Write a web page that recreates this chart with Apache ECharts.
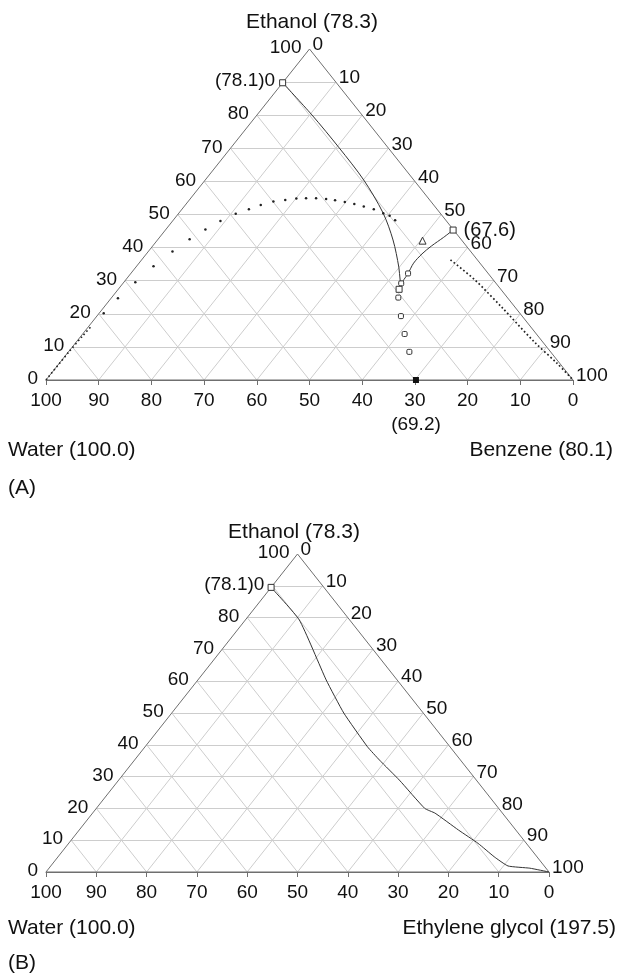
<!DOCTYPE html>
<html><head><meta charset="utf-8">
<script src="https://cdn.jsdelivr.net/npm/echarts@6/dist/echarts.min.js"></script>
<style>html,body{margin:0;padding:0;background:#fff}#c{width:617px;height:974px}</style>
</head><body><div id="c"></div>
<script>
// ---------- tick labels ----------
const gridLevels = [10, 20, 30, 40, 50, 60, 70, 80, 90];
const bottomTickLabels = ['100', '90', '80', '70', '60', '50', '40', '30', '20', '10', '0'];
const leftTickLabels = ['0', '10', '20', '30', '40', '50', '60', '70', '80', '(78.1)0', '100'];
const rightTickLabels = ['0', '10', '20', '30', '40', '50', '60', '70', '80', '90', '100'];

// ---------- chart A : points as [ethanol %, benzene %] (water = rest) ----------
const aBoundaryLeft = [[89.8, 0], [80.1, 10.4], [70.1, 20.6], [60.4, 30.1], [50.5, 38.7], [42.3, 44.7], [34.1, 49.9], [30.2, 52.1], [29.2, 52.8]];
const aBoundaryRight = [[29.2, 52.8], [32.2, 52.6], [35.3, 52.1], [38.1, 52.3], [40.5, 52.9], [43.1, 53.9], [45.3, 54.6]];
const aSquares = [[89.8, 0], [45.3, 54.6], [27.4, 53.3]];
const aTriangles = [[42.1, 50.4]];
const aCircles = [[32.2, 52.6], [29.2, 52.8], [24.9, 54.4], [19.3, 57.7], [13.9, 61.1], [8.5, 64.7]];
const aFilled = [[0, 70.2]];
const aBinodalDense = [[0, 0], [8.5, 0.1], [13.4, 0.3], [16.4, 0.5]];
const aBinodalDots = [[20.2, 0.85], [24.7, 1.3], [29.5, 2.2], [34.4, 3.2], [38.8, 4.6], [42.5, 6.0], [45.5, 7.5], [48.0, 9.1], [50.2, 10.9], [51.6, 12.7], [52.9, 14.3], [53.9, 16.2], [54.4, 18.2], [54.8, 20.1], [54.9, 21.9], [54.9, 23.8], [54.7, 25.8], [54.3, 27.7], [53.8, 29.8], [53.2, 31.9], [52.4, 34.1], [51.6, 36.4], [50.4, 38.8], [49.6, 40.4], [48.3, 42.1]];
const aBinodalRight = [[36.3, 58.6], [30.2, 66.3], [21.7, 75.8], [11.6, 86.8], [5.0, 94.5], [0, 100]];

// ---------- chart B : points as [ethanol %, ethylene glycol %] ----------
const bCurve = [[89.5, 0], [79.3, 10.7], [60.4, 25.5], [50.0, 34.2], [39.4, 44.2], [35.2, 48.7], [28.9, 55.8], [20.0, 65.3], [18.5, 68.1], [13.2, 75.4], [9.0, 81.4], [4.8, 86.7], [1.9, 90.9], [1.2, 95.6], [0, 100]];
const bSquares = [[89.5, 0]];

// ---------- helpers ----------
const FONT = 'Liberation Sans, Arial, Helvetica, sans-serif';
const TXT = '#111';
const LINE = '#333';
// ternary (top component %, right component %) -> cartesian value coords
function tern(top, right) { return [right + top / 2, top]; }
function conv(arr) { return arr.map(p => tern(p[0], p[1])); }

function gridLines() {
  const segs = [];
  gridLevels.forEach(L => {
    segs.push({ coords: [tern(L, 0), tern(L, 100 - L)] });          // constant top
    segs.push({ coords: [tern(0, L), tern(100 - L, L)] });          // constant right comp
    segs.push({ coords: [tern(0, 100 - L), tern(100 - L, 0)] });    // constant left comp
  });
  return segs;
}

function labelStyle(pos, dist, off) {
  return { show: true, position: pos, distance: dist, offset: off, formatter: p => p.data[2],
    fontSize: 19, color: TXT, opacity: 1, fontFamily: FONT };
}
function hollow() { return { color: '#fff', borderColor: '#333', borderWidth: 1, opacity: 1 }; }

function chartSeries(g) {
  const s = [];
  s.push({ type: 'lines', coordinateSystem: 'cartesian2d', xAxisIndex: g, yAxisIndex: g, silent: true, z: 1,
    data: gridLines(), lineStyle: { color: '#cdcdcd', width: 1, opacity: 1 } });
  s.push({ type: 'line', xAxisIndex: g, yAxisIndex: g, silent: true, z: 2, symbol: 'none',
    data: [tern(0, 0), tern(0, 100), tern(100, 0), tern(0, 0)], lineStyle: { color: '#6f6f6f', width: 1 } });
  // left edge labels
  s.push({ type: 'scatter', xAxisIndex: g, yAxisIndex: g, silent: true, z: 5, symbolSize: 0,
    itemStyle: { color: TXT, opacity: 1 },
    data: leftTickLabels.map((t, i) => tern(i * 10, 0).concat([t])),
    label: labelStyle('left', 8, [0, -1]) });
  // right edge labels
  s.push({ type: 'scatter', xAxisIndex: g, yAxisIndex: g, silent: true, z: 5, symbolSize: 0,
    itemStyle: { color: TXT, opacity: 1 },
    data: rightTickLabels.map((t, i) => tern(100 - i * 10, i * 10).concat([t])),
    label: labelStyle('right', 3, [0, -4]) });
  return s;
}

const series = [].concat(chartSeries(0), chartSeries(1));

// chart A data
series.push({ type: 'line', xAxisIndex: 0, yAxisIndex: 0, z: 3, symbol: 'none', smooth: 0.3,
  data: conv(aBoundaryLeft), lineStyle: { color: LINE, width: 1 } });
series.push({ type: 'line', xAxisIndex: 0, yAxisIndex: 0, z: 3, symbol: 'none', smooth: 0.3,
  data: conv(aBoundaryRight), lineStyle: { color: LINE, width: 1 } });
series.push({ type: 'line', xAxisIndex: 0, yAxisIndex: 0, z: 3, symbol: 'none', smooth: 0.3,
  data: conv(aBinodalDense), lineStyle: { color: '#222', width: 1.6, type: [1.6, 2.6] } });
series.push({ type: 'line', xAxisIndex: 0, yAxisIndex: 0, z: 3, symbol: 'none', smooth: 0.3,
  data: conv(aBinodalRight), lineStyle: { color: '#222', width: 1.7, type: [1.7, 2.4] } });
series.push({ type: 'scatter', xAxisIndex: 0, yAxisIndex: 0, z: 3, symbol: 'circle', symbolSize: 2.5,
  data: conv(aBinodalDots), itemStyle: { color: '#222', opacity: 1 } });
series.push({ type: 'scatter', xAxisIndex: 0, yAxisIndex: 0, z: 4, symbol: 'roundRect', symbolSize: 5,
  data: conv(aCircles), itemStyle: hollow() });
series.push({ type: 'scatter', xAxisIndex: 0, yAxisIndex: 0, z: 4, symbol: 'triangle', symbolSize: 7,
  data: conv(aTriangles), itemStyle: hollow() });
series.push({ type: 'scatter', xAxisIndex: 0, yAxisIndex: 0, z: 4, symbol: 'rect', symbolSize: 6,
  data: conv(aSquares).map((p, i) => ({ value: p, label: i === 1 ? { show: true, formatter: '(67.6)', position: 'right', distance: 7 } : { show: false } })),
  label: { fontSize: 20, color: TXT, opacity: 1, fontFamily: FONT },
  itemStyle: hollow() });
series.push({ type: 'scatter', xAxisIndex: 0, yAxisIndex: 0, z: 4, symbol: 'rect', symbolSize: 6,
  data: conv(aFilled),
  label: { show: true, formatter: '(69.2)', position: 'bottom', distance: 32, fontSize: 19, color: TXT, opacity: 1, fontFamily: FONT },
  itemStyle: { color: '#111', opacity: 1 } });

// chart B data
series.push({ type: 'line', xAxisIndex: 1, yAxisIndex: 1, z: 3, symbol: 'none', smooth: 0.15,
  data: conv(bCurve), lineStyle: { color: LINE, width: 1 } });
series.push({ type: 'scatter', xAxisIndex: 1, yAxisIndex: 1, z: 4, symbol: 'rect', symbolSize: 6,
  data: conv(bSquares), itemStyle: hollow() });

function txt(x, y, text, align) {
  return { type: 'text', x: x, y: y, silent: true,
    style: { text: text, fontSize: 21, fontFamily: FONT, fill: TXT, textAlign: align, textVerticalAlign: 'middle' } };
}

const option = {
  animation: false,
  backgroundColor: '#fff',
  grid: [{ left: 46, top: 49, width: 527, height: 331 }, { left: 46, top: 554, width: 503, height: 318 }],
  xAxis: [0, 1].map(i => ({ gridIndex: i, type: 'value', min: 0, max: 100, interval: 10,
    axisLine: { show: true, lineStyle: { color: '#6f6f6f', width: 1 } },
    axisTick: { show: true, length: 5, lineStyle: { color: '#6f6f6f' } },
    splitLine: { show: false },
    axisLabel: { formatter: v => bottomTickLabels[Math.round(v / 10)], fontSize: 19, color: TXT, margin: 11, fontFamily: FONT, showMinLabel: true, showMaxLabel: true } })),
  yAxis: [0, 1].map(i => ({ gridIndex: i, type: 'value', min: 0, max: 100, show: false })),
  series: series,
  graphic: [
    txt(312, 22, 'Ethanol (78.3)', 'center'),
    txt(8, 450, 'Water (100.0)', 'left'),
    txt(613, 450, 'Benzene (80.1)', 'right'),
    txt(8, 488, '(A)', 'left'),
    txt(294, 532, 'Ethanol (78.3)', 'center'),
    txt(8, 928, 'Water (100.0)', 'left'),
    txt(616, 928, 'Ethylene glycol (197.5)', 'right'),
    txt(8, 963, '(B)', 'left')
  ]
};

const chart = echarts.init(document.getElementById('c'), null, { renderer: 'canvas' });
chart.setOption(option);
</script>
</body></html>
